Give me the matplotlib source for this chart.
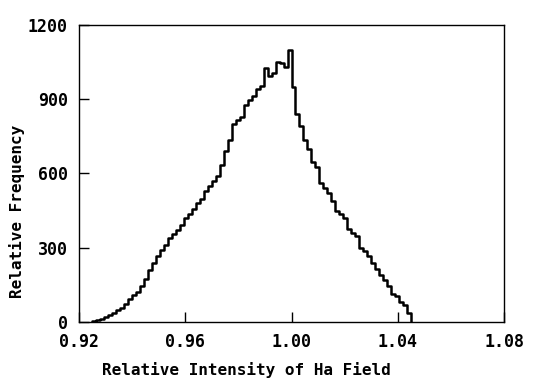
import numpy as np
import matplotlib
matplotlib.use("Agg")
import matplotlib.pyplot as plt

# Histogram bins (left edges start, width) and frequencies
bin_start = 0.925
bin_width = 0.0015
frequencies = [
    3, 8, 14, 22, 30, 38, 47, 58, 72, 92,
    108, 122, 145, 172, 210, 240, 268, 292, 312, 338,
    355, 372, 392, 420, 435, 455, 480, 498, 530, 548,
    568, 590, 635, 690, 735, 800, 815, 830, 875, 895,
    915, 940, 955, 1025, 995, 1005, 1050, 1048, 1030, 1100,
    950, 840, 790, 735, 700, 645, 625, 560, 540, 520,
    490, 448, 435, 422, 375, 360, 348, 300, 285, 265,
    240, 215, 190, 168, 145, 112, 105, 80, 70, 35,
]
x_ticks = [0.92, 0.96, 1.00, 1.04, 1.08]
x_tick_labels = ["0.92", "0.96", "1.00", "1.04", "1.08"]
y_ticks = [0, 300, 600, 900, 1200]
y_tick_labels = ["0", "300", "600", "900", "1200"]

edges = bin_start + bin_width * np.arange(len(frequencies) + 1)
vals = np.array(frequencies, dtype=float)

fig = plt.figure(figsize=(5.44, 3.81), dpi=100)
ax = fig.add_axes([0.1452, 0.1549, 0.7813, 0.7795])

xs = np.concatenate([[edges[0]], edges])
ys = np.concatenate([[0], vals, [0]])
ax.step(xs, ys, where="post", color="black", lw=1.8)

ax.set_xlim(0.92, 1.08)
ax.set_ylim(0, 1200)
ax.set_xticks(x_ticks)
ax.set_xticklabels(x_tick_labels)
ax.set_yticks(y_ticks)
ax.set_yticklabels(y_tick_labels)
ax.tick_params(direction="in", length=7, width=1.0, pad=8)
for lab in ax.get_xticklabels() + ax.get_yticklabels():
    lab.set_family("DejaVu Sans Mono")
    lab.set_fontweight("bold")
    lab.set_fontsize(12)
for s in ax.spines.values():
    s.set_linewidth(1.0)

ax.set_xlabel("Relative Intensity of Ha Field", family="DejaVu Sans Mono",
              fontsize=11.5, fontweight="bold")
ax.set_ylabel("Relative Frequency", family="DejaVu Sans Mono",
              fontsize=11.5, fontweight="bold")
ax.xaxis.set_label_coords(0.395, -0.135)
ax.yaxis.set_label_coords(-0.127, 0.374)

fig.savefig("out.png", dpi=100)
